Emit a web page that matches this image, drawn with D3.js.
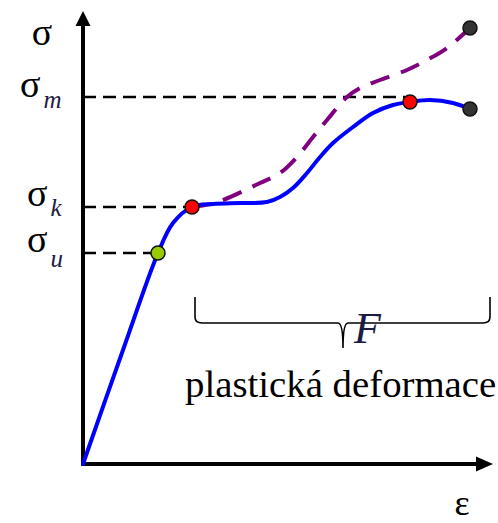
<!DOCTYPE html>
<html>
<head>
<meta charset="utf-8">
<script src="https://cdn.jsdelivr.net/npm/d3@7"></script>
<style>
  body { margin: 0; background: #fff; }
  svg { display: block; }
</style>
</head>
<body>
<div id="chart"></div>
<script>
// stress-strain diagram, arbitrary units (strain on x, stress on y)
const curveStrain = [0, 10, 18.75, 22.5, 27.25, 32.5, 39.25, 46, 49.25, 52.5, 56, 59.25, 62.5, 67.5, 72.5, 77.5, 81.75, 86.75, 92.5, 96.75];
const curveStress = [0, 28.5, 52.75, 60.25, 64.25, 65, 65.25, 65.5, 66.75, 69, 72.75, 76.75, 80.25, 84.25, 87.75, 89.75, 90.5, 91, 90.25, 88.75];

// true stress (dashed purple)
const trueStrain = [27.25, 33, 44.25, 49.25, 53.5, 57.5, 61, 66, 69.25, 74.25, 81, 86, 91, 96.75];
const trueStress = [64.25, 65.25, 70.25, 72.75, 76.75, 81.75, 86, 91.75, 94, 96, 98.5, 101, 104, 109];

// marked points
const pointStrain = [18.75, 27.25, 81.75, 96.75, 96.75];
const pointStress = [52.75, 64.25, 90.5, 88.75, 109];
const pointColors = ["#99cc00", "#ff0000", "#ff0000", "#333333", "#333333"];

// stress levels on the y axis
const levelNames = ["u", "k", "m"];
const levelStress = [52.75, 64.25, 91.75];
const levelEndStrain = [18.75, 27.25, 80.5];

// plastic deformation range
const plasticFrom = 28, plasticTo = 101.75, plasticMid = 65;

const width = 498, height = 523;

const x = d3.scaleLinear().domain([0, 100]).range([83, 483]);
const y = d3.scaleLinear().domain([0, 100]).range([464, 64]);

const svg = d3.select("#chart")
  .append("svg")
  .attr("width", width)
  .attr("height", height);

// dashed level lines
svg.selectAll(".level")
  .data(levelStress)
  .enter()
  .append("line")
  .attr("x1", x(0))
  .attr("x2", (d, i) => x(levelEndStrain[i]))
  .attr("y1", d => y(d))
  .attr("y2", d => y(d))
  .attr("stroke", "#000")
  .attr("stroke-width", 2.5)
  .attr("stroke-dasharray", "13,7");

// axes without ticks
svg.append("g")
  .attr("transform", "translate(0," + y(0) + ")")
  .call(d3.axisBottom(x).tickValues([]).tickSizeOuter(0))
  .call(g => g.select(".domain")
    .attr("d", "M" + x(0) + ",0H" + 478)
    .attr("stroke-width", 4));

svg.append("g")
  .attr("transform", "translate(" + x(0) + ",0)")
  .call(d3.axisLeft(y).tickValues([]).tickSizeOuter(0))
  .call(g => g.select(".domain")
    .attr("d", "M0," + (y(0) + 2) + "V" + 24)
    .attr("stroke-width", 4));

// arrow heads
svg.append("path")
  .attr("d", "M" + (x(0) - 7.5) + ",26L" + x(0) + ",11L" + (x(0) + 7.5) + ",26Z")
  .attr("fill", "#000");
svg.append("path")
  .attr("d", "M476," + (y(0) - 7.5) + "L493," + y(0) + "L476," + (y(0) + 7.5) + "Z")
  .attr("fill", "#000");

const line = d3.line()
  .x(d => x(d[0]))
  .y(d => y(d[1]))
  .curve(d3.curveCatmullRom.alpha(0.5));

svg.append("path")
  .datum(trueStrain.map((d, i) => [d, trueStress[i]]))
  .attr("d", line)
  .attr("fill", "none")
  .attr("stroke", "#800080")
  .attr("stroke-width", 4)
  .attr("stroke-dasharray", "20,12");

svg.append("path")
  .datum(curveStrain.map((d, i) => [d, curveStress[i]]))
  .attr("d", line)
  .attr("fill", "none")
  .attr("stroke", "#0000ff")
  .attr("stroke-width", 4)
  .attr("stroke-linecap", "round");

svg.selectAll(".pt")
  .data(pointStrain)
  .enter()
  .append("circle")
  .attr("class", "pt")
  .attr("cx", d => x(d))
  .attr("cy", (d, i) => y(pointStress[i]))
  .attr("r", 7)
  .attr("fill", (d, i) => pointColors[i])
  .attr("stroke", "#111")
  .attr("stroke-width", 1.5);

// labels
const serif = "'Liberation Serif', 'DejaVu Serif', serif";
svg.append("text")
  .attr("x", 42).attr("y", 45)
  .attr("text-anchor", "middle")
  .style("font-family", serif).style("font-size", "38px")
  .text("σ");

const subOffset = { u: 15, k: 10, m: 11 };
levelNames.forEach((name, i) => {
  const base = y(levelStress[i]);
  const t = svg.append("text")
    .attr("x", name === "m" ? 20 : 27)
    .attr("y", base + (name === "m" ? 0 : -1))
    .style("font-family", serif).style("font-size", "38px");
  t.append("tspan").text("σ");
  t.append("tspan")
    .attr("dx", 3)
    .attr("dy", subOffset[name])
    .style("font-size", "25px")
    .style("font-style", "italic")
    .attr("fill", "#1c1c44")
    .text(name);
});

svg.append("text")
  .attr("x", 462).attr("y", 515)
  .attr("text-anchor", "middle")
  .style("font-family", serif).style("font-size", "36px")
  .text("ε");

// brace
const bx1 = x(plasticFrom), bx2 = x(plasticTo), bm = x(plasticMid);
const bTop = 297, bLine = 323, bTip = 348;
svg.append("path")
  .attr("d",
    "M" + bx1 + "," + bTop + "V" + (bLine - 6) +
    "Q" + bx1 + "," + bLine + " " + (bx1 + 7) + "," + bLine +
    "H" + (bm - 5) +
    "Q" + bm + "," + bLine + " " + bm + "," + bTip +
    "Q" + bm + "," + bLine + " " + (bm + 5) + "," + bLine +
    "H" + (bx2 - 7) +
    "Q" + bx2 + "," + bLine + " " + bx2 + "," + (bLine - 6) +
    "V" + bTop)
  .attr("fill", "none")
  .attr("stroke", "#000")
  .attr("stroke-width", 1.6);

svg.append("text")
  .attr("x", 354).attr("y", 343)
  .style("font-family", serif).style("font-size", "44px")
  .style("font-style", "italic")
  .attr("fill", "#1c1c44")
  .text("F");

svg.append("text")
  .attr("x", 185).attr("y", 397)
  .style("font-family", serif).style("font-size", "38.8px")
  .text("plastická deformace");
</script>
</body>
</html>
